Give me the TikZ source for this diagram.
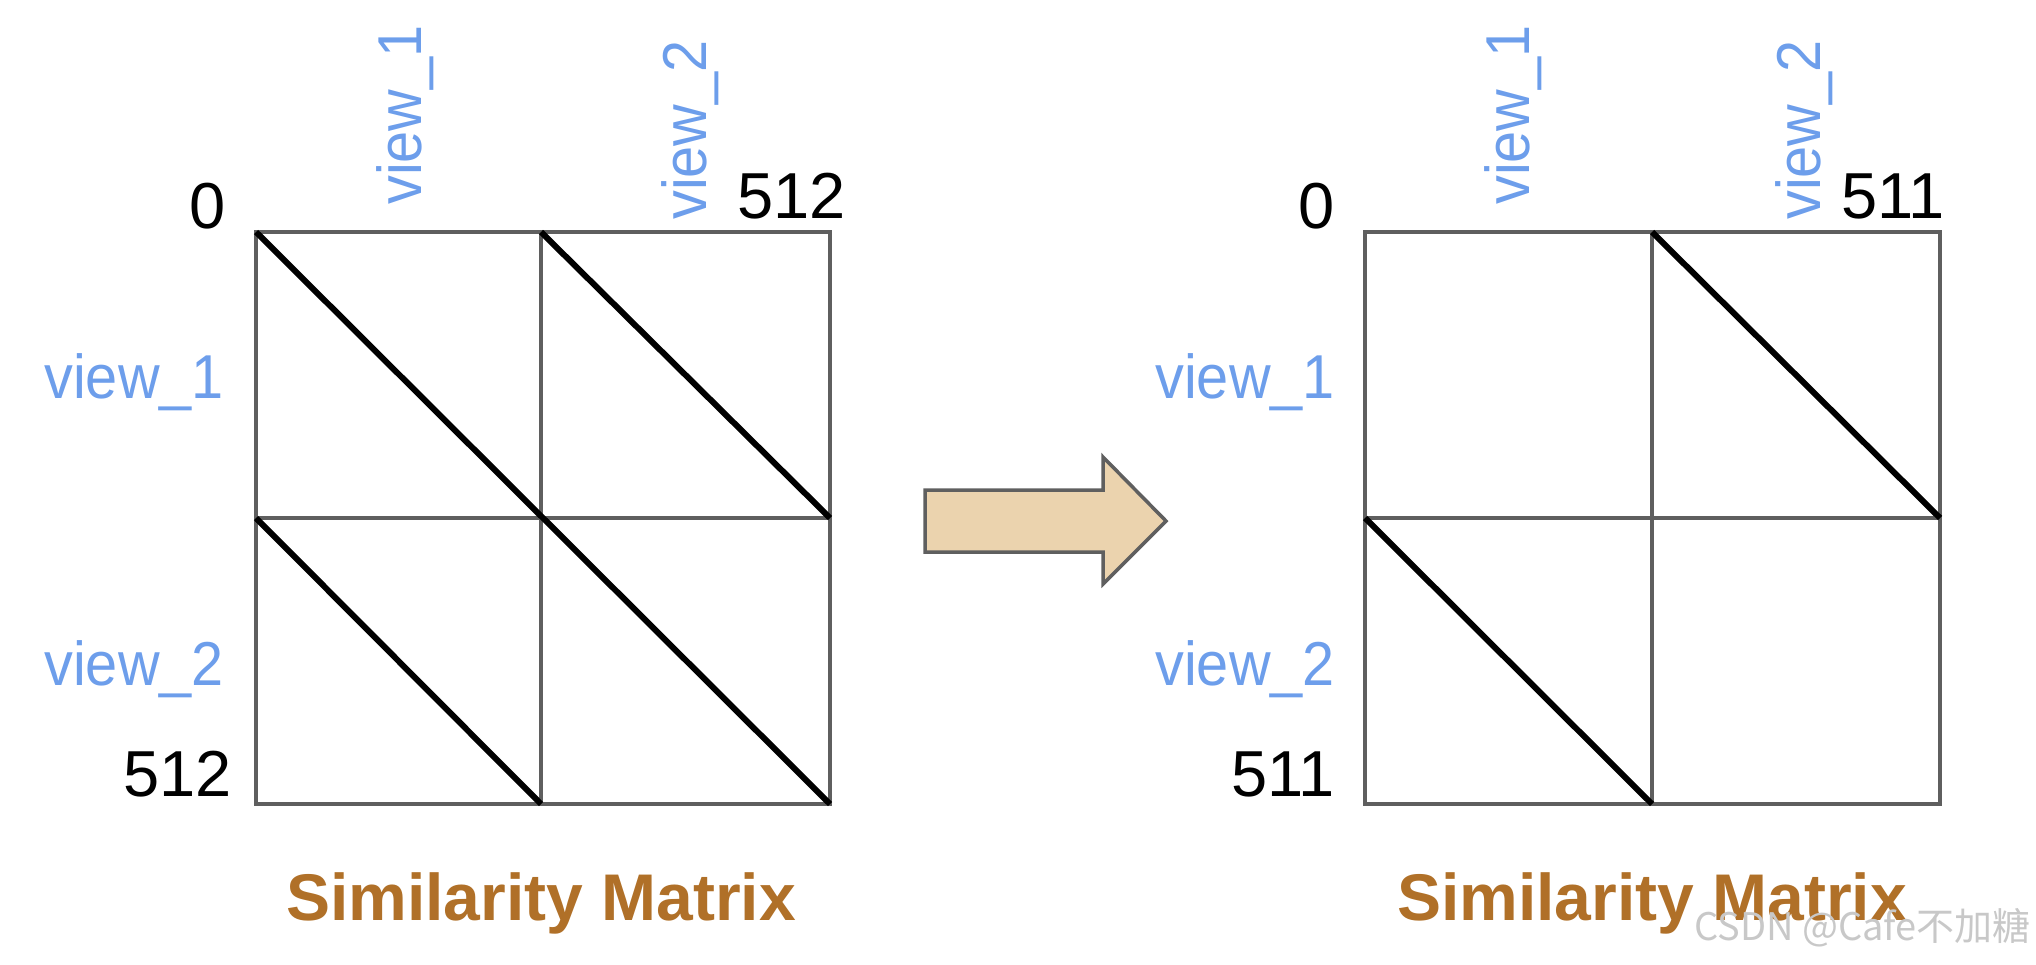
\documentclass[tikz,border=0pt]{standalone}
\usepackage{fontspec}
\setmainfont{Liberation Sans}
\newfontfamily\narrowsans[FakeStretch=0.93]{Liberation Sans}
\newfontfamily\cjk{Noto Sans CJK SC}
\definecolor{viewblue}{HTML}{6D9EEB}
\definecolor{titlebrown}{HTML}{B07028}
\definecolor{gridgrey}{HTML}{5F5F5F}
\definecolor{arrowfill}{HTML}{EBD3AE}
\definecolor{wmgrey}{HTML}{C8C8C8}
\tikzset{
  cell/.style={draw=gridgrey, line width=3.5pt},
  diag/.style={draw=black, line width=6pt},
  numlbl/.style={inner sep=0pt, font=\fontsize{65}{78}\selectfont, text=black},
  viewlbl/.style={inner sep=0pt, font=\narrowsans\fontsize{62}{72}\selectfont, text=viewblue},
  titlelbl/.style={inner sep=0pt, font=\fontsize{66}{78}\selectfont\bfseries, text=titlebrown},
  bigarrow/.style={draw=gridgrey, line width=3.5pt, fill=arrowfill, line join=miter}
}
\begin{document}
\begin{tikzpicture}[x=1pt,y=-1pt]
\useasboundingbox (0,0) rectangle (2036,964);
% ---------- left matrix ----------
\coordinate (LA) at (256,232); \coordinate (LB) at (541,232); \coordinate (LC) at (830,232);
\coordinate (LD) at (256,518); \coordinate (LE) at (541,518); \coordinate (LF) at (830,518);
\coordinate (LG) at (256,804); \coordinate (LH) at (541,804); \coordinate (LI) at (830,804);
\draw[cell] (LA) rectangle (LI);
\draw[cell] (LB) -- (LH);
\draw[cell] (LD) -- (LF);
\draw[diag] (LA) -- (LI);
\draw[diag] (LB) -- (LF);
\draw[diag] (LD) -- (LH);
\node[numlbl, anchor=base east] (l0) at (226,228) {0};
\node[numlbl, anchor=base east] (l512t) at (846,218) {512};
\node[numlbl, anchor=base east] (l512b) at (232,796) {512};
\node[viewlbl, anchor=base east] (lv1) at (224,398) {view\_1};
\node[viewlbl, anchor=base east] (lv2) at (224,685) {view\_2};
\node[viewlbl, anchor=base west, rotate=90] (ltv1) at (421,205) {view\_1};
\node[viewlbl, anchor=base west, rotate=90] (ltv2) at (706,220) {view\_2};
\node[titlelbl, anchor=base] (ltitle) at (541,920) {Similarity Matrix};
% ---------- arrow ----------
\draw[bigarrow] (925,490) -- (1103,490) -- (1103,457) -- (1166,521) -- (1103,584) -- (1103,552) -- (925,552) -- cycle;
% ---------- right matrix ----------
\coordinate (RA) at (1365,232); \coordinate (RB) at (1652,232); \coordinate (RC) at (1940,232);
\coordinate (RD) at (1365,518); \coordinate (RE) at (1652,518); \coordinate (RF) at (1940,518);
\coordinate (RG) at (1365,804); \coordinate (RH) at (1652,804); \coordinate (RI) at (1940,804);
\draw[cell] (RA) rectangle (RI);
\draw[cell] (RB) -- (RH);
\draw[cell] (RD) -- (RF);
\draw[diag] (RB) -- (RF);
\draw[diag] (RD) -- (RH);
\node[numlbl, anchor=base east] (r0) at (1335,228) {0};
\node[numlbl, anchor=base east] (r511t) at (1945,218) {511};
\node[numlbl, anchor=base east] (r511b) at (1335,796) {511};
\node[viewlbl, anchor=base east] (rv1) at (1335,398) {view\_1};
\node[viewlbl, anchor=base east] (rv2) at (1335,685) {view\_2};
\node[viewlbl, anchor=base west, rotate=90] (rtv1) at (1529,205) {view\_1};
\node[viewlbl, anchor=base west, rotate=90] (rtv2) at (1820,220) {view\_2};
\node[titlelbl, anchor=base] (rtitle) at (1652,920) {Similarity Matrix};
% ---------- watermark ----------
\node[inner sep=0pt, anchor=base east, text=wmgrey, font=\cjk\fontsize{38}{44}\selectfont] (wm) at (2031,940) {CSDN @Cafe不加糖};
\end{tikzpicture}
\end{document}
